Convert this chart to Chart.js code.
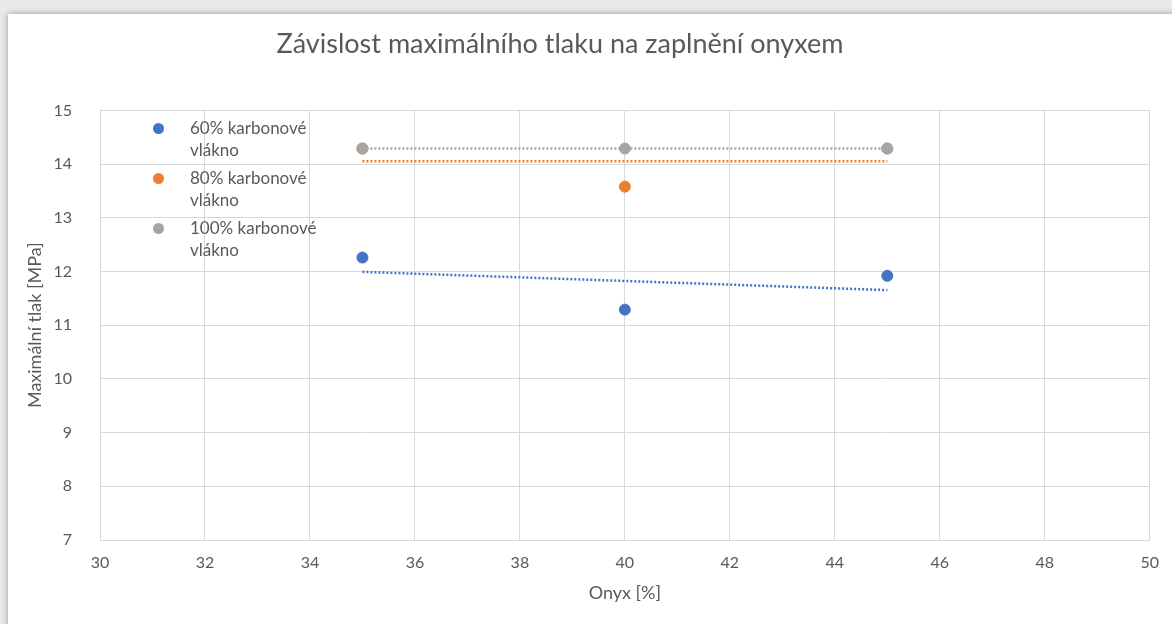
<!DOCTYPE html>
<html>
<head>
<meta charset="utf-8">
<script src="https://cdn.jsdelivr.net/npm/chart.js@4.4.1/dist/chart.umd.min.js"></script>
<style>
  body { margin: 0; width: 1172px; height: 624px; overflow: hidden; background: #e9e9e9; font-family: Lato, sans-serif; }
  .card { position: absolute; left: 8px; top: 14px; width: 1180px; height: 630px; background: #fff; box-shadow: 0 0 6px rgba(0,0,0,0.35); }
  .wrap { position: absolute; left: 0; top: 0; width: 1172px; height: 624px; }
  #legend { position: absolute; left: 150px; top: 117px; color: #595959; font-size: 17px; line-height: 22px; }
  #legend .item { position: relative; padding-left: 40px; width: 140px; margin-bottom: 6px; }
  #legend .dot { position: absolute; left: 3px; top: 6px; width: 11px; height: 11px; border-radius: 50%; }
</style>
</head>
<body>
<div class="card"></div>
<div class="wrap"><canvas id="chart" width="1172" height="624"></canvas></div>
<div id="legend"></div>
<script>
// Onyx content [%]
const onyx = [35, 40, 45];

const seriesNames = ["60% karbonové vlákno", "80% karbonové vlákno", "100% karbonové vlákno"];
const colors = ["#4472C4", "#ED7D31", "#A5A5A5"];

// Maximum pressure [MPa]
const carbon60 = [12.26, 11.29, 11.92];
const carbon80 = [14.29, 13.58, 14.29];
const carbon100 = [14.29, 14.29, 14.29];

const xTicks = [30, 32, 34, 36, 38, 40, 42, 44, 46, 48, 50];
const yTicks = [7, 8, 9, 10, 11, 12, 13, 14, 15];

const allSeries = [carbon60, carbon80, carbon100];

// linear trendline, like Excel's
function trend(xs, ys) {
    const n = xs.length;
    const mx = xs.reduce((a, b) => a + b, 0) / n;
    const my = ys.reduce((a, b) => a + b, 0) / n;
    let num = 0, den = 0;
    xs.forEach((x, i) => { num += (x - mx) * (ys[i] - my); den += (x - mx) * (x - mx); });
    const k = den ? num / den : 0;
    const x0 = xs[0], x1 = xs[n - 1];
    return [{ x: x0, y: my + k * (x0 - mx) }, { x: x1, y: my + k * (x1 - mx) }];
}

const datasets = [];
allSeries.forEach((ys, i) => {
    datasets.push({
        label: seriesNames[i],
        data: onyx.map((x, j) => ({ x: x, y: ys[j] })),
        backgroundColor: colors[i],
        borderColor: colors[i],
        pointRadius: 5.5,
        pointHoverRadius: 5.5,
        showLine: false,
        order: 2 - i
    });
});
allSeries.forEach((ys, i) => {
    datasets.push({
        label: seriesNames[i] + " trend",
        type: "line",
        data: trend(onyx, ys),
        borderColor: colors[i],
        borderWidth: 2.5,
        borderDash: [2, 2],
        pointRadius: 0,
        fill: false,
        order: 10 - i
    });
});

// legend as html
document.getElementById("legend").innerHTML = seriesNames.map((name, i) =>
    `<div class="item"><span class="dot" style="background:${colors[i]}"></span>${name}</div>`).join("");

const textColor = "#595959";
const gridColor = "#d9d9d9";

// move the title a bit left, Excel centres it over the whole card
const titleShift = {
    id: "titleShift",
    afterLayout(chart) {
        if (chart.titleBlock) {
            chart.titleBlock.left = 0;
            chart.titleBlock.right = 1120;
        }
    }
};

new Chart(document.getElementById("chart").getContext("2d"), {
    type: "scatter",
    data: { datasets },
    plugins: [titleShift],
    options: {
        responsive: false,
        animation: false,
        layout: { padding: { left: 0, right: 22, top: 0, bottom: 0 } },
        plugins: {
            legend: { display: false },
            tooltip: { enabled: false },
            title: {
                display: true,
                text: "Závislost maximálního tlaku na zaplnění onyxem",
                color: textColor,
                font: { family: "Lato", size: 27, weight: "normal" },
                padding: { top: 28, bottom: 50 }
            }
        },
        scales: {
            x: {
                type: "linear",
                min: 30, max: 50,
                afterBuildTicks: s => { s.ticks = xTicks.map(v => ({ value: v })); },
                afterFit: s => { s.height = 84; },
                grid: { color: gridColor, drawTicks: false },
                border: { color: gridColor },
                ticks: { color: textColor, font: { family: "Lato", size: 16 }, padding: 13 },
                title: { display: true, text: "Onyx [%]", color: textColor, font: { family: "Lato", size: 18 }, padding: { bottom: 20 } }
            },
            y: {
                type: "linear",
                min: 7, max: 15,
                afterBuildTicks: s => { s.ticks = yTicks.map(v => ({ value: v })); },
                afterFit: s => { s.width = 100; },
                grid: { color: gridColor, drawTicks: false },
                border: { color: gridColor },
                ticks: { color: textColor, font: { family: "Lato", size: 16 }, padding: 28 },
                title: { display: true, text: "Maximální tlak [MPa]", color: textColor, font: { family: "Lato", size: 18 }, padding: { top: 24 } }
            }
        }
    }
});
</script>
</body>
</html>
